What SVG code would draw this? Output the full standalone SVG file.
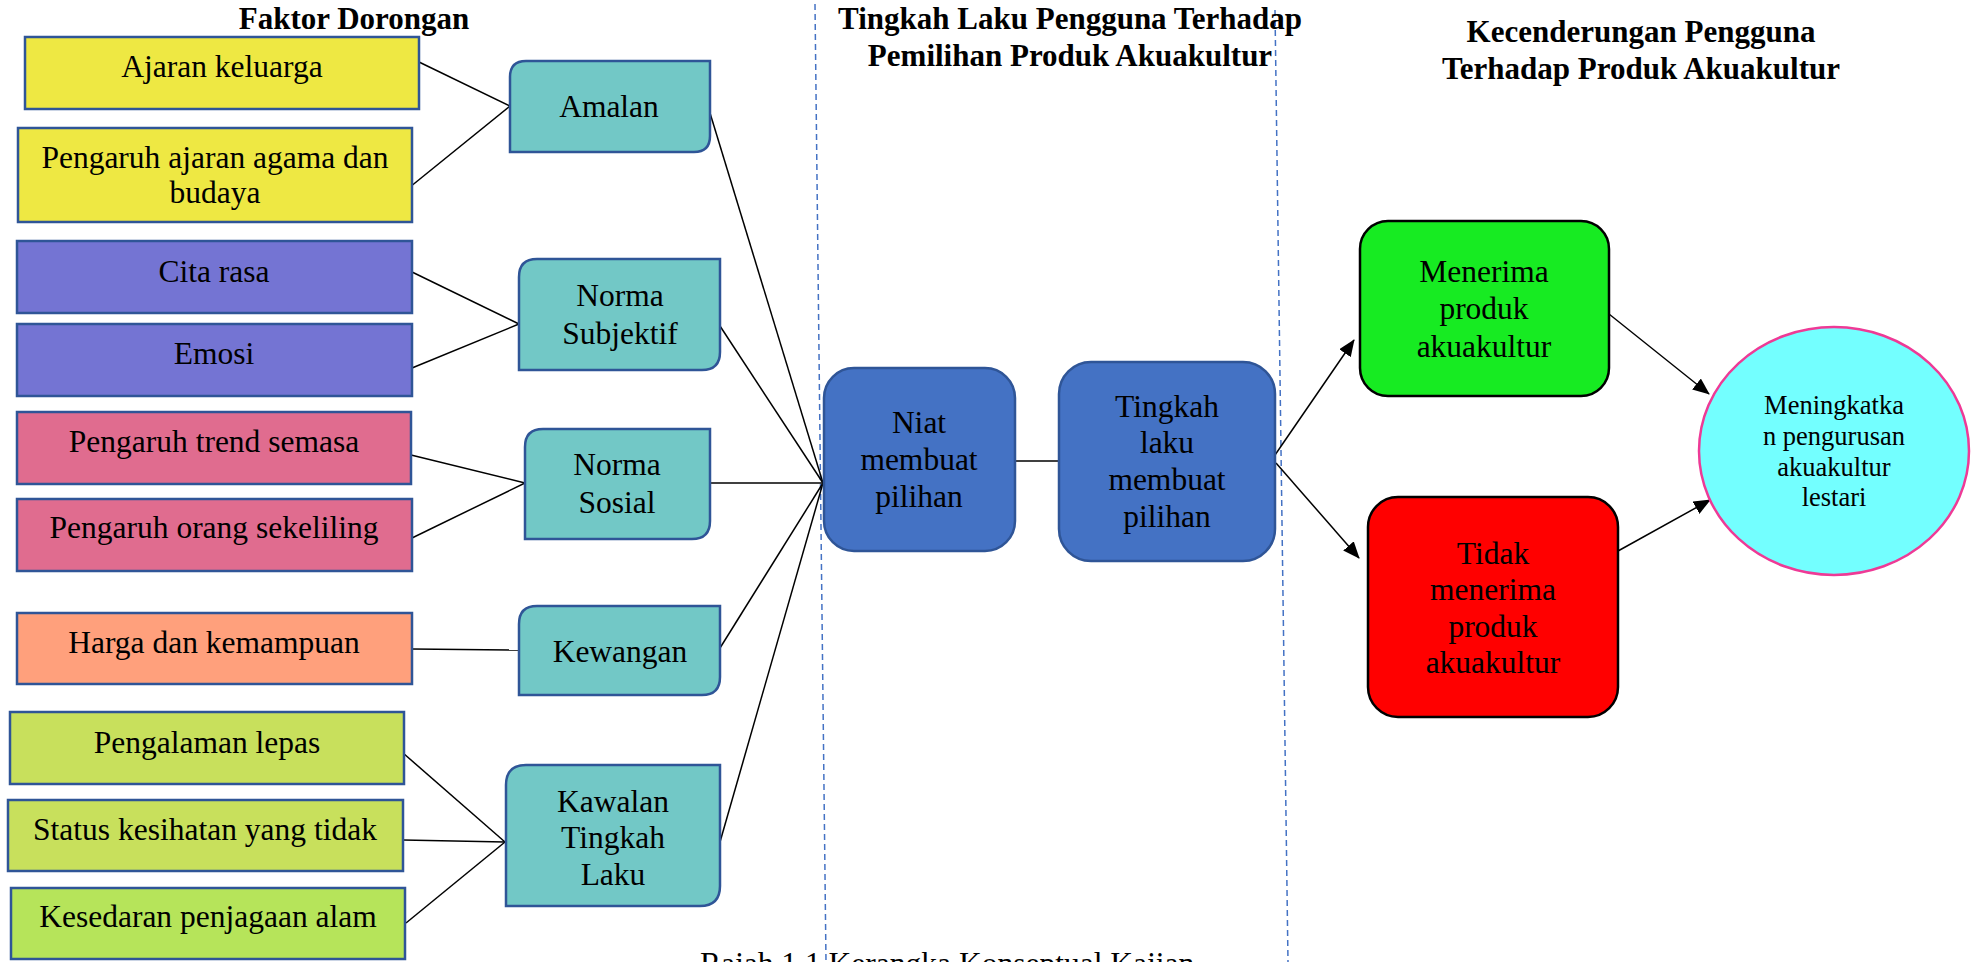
<svg xmlns="http://www.w3.org/2000/svg" width="1971" height="962" viewBox="0 0 1971 962">
<style>
  text { font-family: "Liberation Serif", "Times New Roman", serif; fill: #000; }
  .t { font-size: 31.5px; text-anchor: middle; }
  .h { font-size: 31px; font-weight: bold; text-anchor: middle; }
  .c { font-size: 26.5px; text-anchor: middle; }
  .lb { stroke: #2F5597; stroke-width: 2.5; }
  .y { fill: #EEE843; }
  .p { fill: #7474D3; }
  .k { fill: #E06C8F; }
  .o { fill: #FFA07C; }
  .g1 { fill: #C8E05C; }
  .g2 { fill: #B6E45A; }
  .teal { fill: #72C8C6; stroke: #2F5597; stroke-width: 2.5; }
  .blue { fill: #4472C4; stroke: #2F5597; stroke-width: 2.5; }
  .ln { stroke: #000; stroke-width: 1.5; fill: none; }
  .ar { stroke: #000; stroke-width: 1.5; fill: none; marker-end: url(#arr); }
  .dash { stroke: #4472C4; stroke-width: 1.5; stroke-dasharray: 6 4; fill: none; }
</style>
<defs>
  <marker id="arr" markerWidth="17" markerHeight="14" refX="16" refY="7" orient="auto" markerUnits="userSpaceOnUse" viewBox="0 0 17 14">
    <path d="M0,0 L17,7 L0,14 Z" fill="#000"/>
  </marker>
</defs>
<rect width="1971" height="962" fill="#fff"/>

<g id="dividers">
  <line class="dash" x1="815" y1="4" x2="826" y2="962"/>
  <line class="dash" x1="1275" y1="10" x2="1288" y2="962"/>
</g>

<g id="titles">
  <text class="h" x="354" y="29">Faktor Dorongan</text>
  <text class="h" x="1070" y="29">Tingkah Laku Pengguna Terhadap</text>
  <text class="h" x="1070" y="66">Pemilihan Produk Akuakultur</text>
  <text class="h" x="1641" y="42">Kecenderungan Pengguna</text>
  <text class="h" x="1641" y="79">Terhadap Produk Akuakultur</text>
</g>

<g id="connectors">
  <line class="ln" x1="419" y1="62" x2="510" y2="106"/>
  <line class="ln" x1="410" y1="187" x2="510" y2="106"/>
  <line class="ln" x1="412" y1="272" x2="519" y2="324"/>
  <line class="ln" x1="412" y1="368" x2="519" y2="324"/>
  <line class="ln" x1="411" y1="455" x2="525" y2="483"/>
  <line class="ln" x1="412" y1="538" x2="525" y2="483"/>
  <line class="ln" x1="412" y1="649" x2="519" y2="650"/>
  <line class="ln" x1="403" y1="753" x2="505" y2="842"/>
  <line class="ln" x1="403" y1="840" x2="505" y2="842"/>
  <line class="ln" x1="406" y1="923" x2="505" y2="842"/>
  <line class="ln" x1="710" y1="113" x2="823" y2="483"/>
  <line class="ln" x1="720" y1="326" x2="823" y2="483"/>
  <line class="ln" x1="710" y1="483" x2="823" y2="483"/>
  <line class="ln" x1="720" y1="648" x2="823" y2="483"/>
  <line class="ln" x1="720" y1="842" x2="823" y2="483"/>
  <line class="ln" x1="1015" y1="461" x2="1059" y2="461"/>
  <line class="ar" x1="1275" y1="455" x2="1354" y2="340"/>
  <line class="ar" x1="1276" y1="463" x2="1359" y2="558"/>
  <line class="ar" x1="1609" y1="314" x2="1709" y2="394"/>
  <line class="ar" x1="1618" y1="551" x2="1710" y2="500"/>
</g>

<g id="n-ajaran">
  <rect class="y lb" x="25" y="37" width="394" height="72"/>
  <text class="t" x="222" y="77">Ajaran keluarga</text>
</g>
<g id="n-agama">
  <rect class="y lb" x="18" y="128" width="394" height="94"/>
  <text class="t" x="215" y="168">Pengaruh ajaran agama dan</text>
  <text class="t" x="215" y="203">budaya</text>
</g>
<g id="n-citarasa">
  <rect class="p lb" x="17" y="241" width="395" height="72"/>
  <text class="t" x="214" y="282">Cita rasa</text>
</g>
<g id="n-emosi">
  <rect class="p lb" x="17" y="324" width="395" height="72"/>
  <text class="t" x="214" y="364">Emosi</text>
</g>
<g id="n-trend">
  <rect class="k lb" x="17" y="412" width="394" height="72"/>
  <text class="t" x="214" y="452">Pengaruh trend semasa</text>
</g>
<g id="n-orang">
  <rect class="k lb" x="17" y="499" width="395" height="72"/>
  <text class="t" x="214" y="538">Pengaruh orang sekeliling</text>
</g>
<g id="n-harga">
  <rect class="o lb" x="17" y="613" width="395" height="71"/>
  <text class="t" x="214" y="653">Harga dan kemampuan</text>
</g>
<g id="n-pengalaman">
  <rect class="g1 lb" x="10" y="712" width="394" height="72"/>
  <text class="t" x="207" y="753">Pengalaman lepas</text>
</g>
<g id="n-status">
  <rect class="g1 lb" x="8" y="800" width="395" height="71"/>
  <text class="t" x="205" y="840">Status kesihatan yang tidak</text>
</g>
<g id="n-kesedaran">
  <rect class="g2 lb" x="11" y="888" width="394" height="71"/>
  <text class="t" x="208" y="927">Kesedaran penjagaan alam</text>
</g>

<g id="n-amalan">
  <path class="teal" d="M526,61 H710 V136 Q710,152 694,152 H510 V77 Q510,61 526,61 Z"/>
  <text class="t" x="609" y="117">Amalan</text>
</g>
<g id="n-normasubjektif">
  <path class="teal" d="M537,259 H720 V352 Q720,370 702,370 H519 V277 Q519,259 537,259 Z"/>
  <text class="t" x="620" y="306">Norma</text>
  <text class="t" x="620" y="344">Subjektif</text>
</g>
<g id="n-normasosial">
  <path class="teal" d="M543,429 H710 V521 Q710,539 692,539 H525 V447 Q525,429 543,429 Z"/>
  <text class="t" x="617" y="475">Norma</text>
  <text class="t" x="617" y="513">Sosial</text>
</g>
<g id="n-kewangan">
  <path class="teal" d="M537,606 H720 V677 Q720,695 702,695 H519 V624 Q519,606 537,606 Z"/>
  <text class="t" x="620" y="662">Kewangan</text>
</g>
<g id="n-kawalan">
  <path class="teal" d="M526,765 H720 V886 Q720,906 700,906 H506 V785 Q506,765 526,765 Z"/>
  <text class="t" x="613" y="812">Kawalan</text>
  <text class="t" x="613" y="848">Tingkah</text>
  <text class="t" x="613" y="885">Laku</text>
</g>

<g id="n-niat">
  <rect class="blue" x="824" y="368" width="191" height="183" rx="30" ry="30"/>
  <text class="t" x="919" y="433">Niat</text>
  <text class="t" x="919" y="470">membuat</text>
  <text class="t" x="919" y="507">pilihan</text>
</g>
<g id="n-tingkahlaku">
  <rect class="blue" x="1059" y="362" width="216" height="199" rx="32" ry="32"/>
  <text class="t" x="1167" y="417">Tingkah</text>
  <text class="t" x="1167" y="453">laku</text>
  <text class="t" x="1167" y="490">membuat</text>
  <text class="t" x="1167" y="527">pilihan</text>
</g>

<g id="n-menerima">
  <rect x="1360" y="221" width="249" height="175" rx="28" ry="28" fill="#17EB22" stroke="#000" stroke-width="2.5"/>
  <text class="t" x="1484" y="282">Menerima</text>
  <text class="t" x="1484" y="319">produk</text>
  <text class="t" x="1484" y="357">akuakultur</text>
</g>
<g id="n-tidak">
  <rect x="1368" y="497" width="250" height="220" rx="30" ry="30" fill="#FF0000" stroke="#000" stroke-width="2.5"/>
  <text class="t" x="1493" y="564">Tidak</text>
  <text class="t" x="1493" y="600">menerima</text>
  <text class="t" x="1493" y="637">produk</text>
  <text class="t" x="1493" y="673">akuakultur</text>
</g>
<g id="n-meningkatkan">
  <ellipse cx="1834" cy="451" rx="135" ry="124" fill="#73FFFF" stroke="#EE3A96" stroke-width="2.5"/>
  <text class="c" x="1834" y="414">Meningkatka</text>
  <text class="c" x="1834" y="445">n pengurusan</text>
  <text class="c" x="1834" y="476">akuakultur</text>
  <text class="c" x="1834" y="506">lestari</text>
</g>

<g id="caption">
  <text x="700" y="974" style="font-size:31.5px">Rajah 1.1 Kerangka Konseptual Kajian</text>
</g>
</svg>
